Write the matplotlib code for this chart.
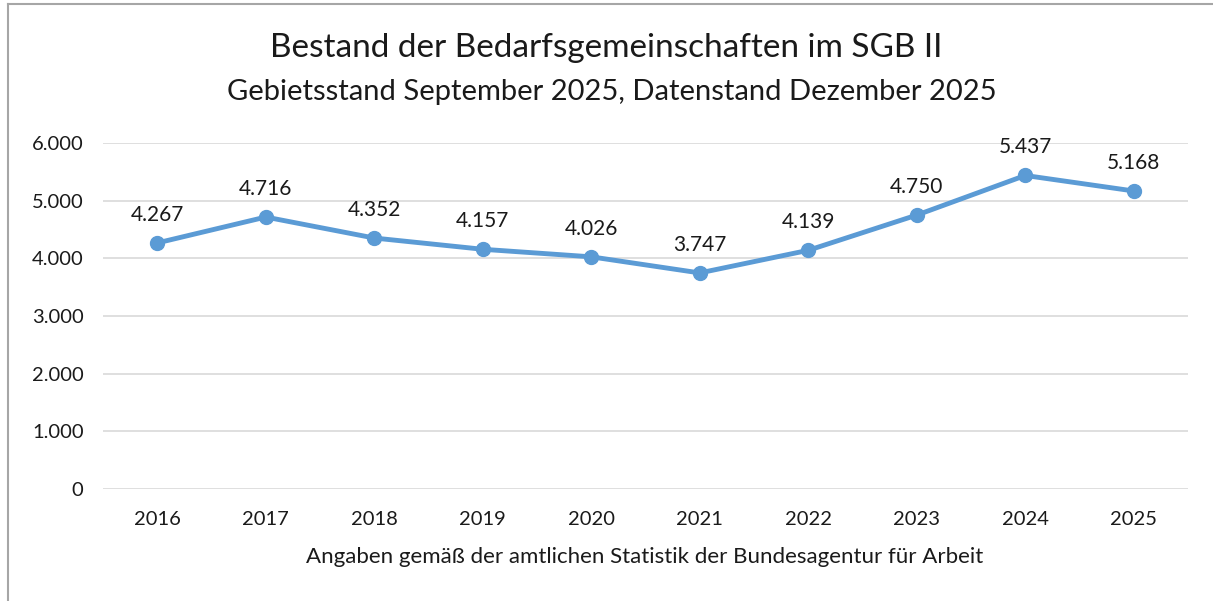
import matplotlib.pyplot as plt
from matplotlib.lines import Line2D
from matplotlib.ticker import FuncFormatter

# Daten
jahre = ['2016', '2017', '2018', '2019', '2020', '2021', '2022', '2023', '2024', '2025']
bestand = [4267, 4716, 4352, 4157, 4026, 3747, 4139, 4750, 5437, 5168]

plt.rcParams['font.family'] = ['Lato', 'DejaVu Sans']

def tausender(v, pos=None):
    return f'{int(v):,}'.replace(',', '.')

fig = plt.figure(figsize=(12.13, 6.01), dpi=100)
ax = fig.add_axes([103 / 1213, 1 - 489 / 601, (1188 - 103) / 1213, (489 - 143) / 601])

x = list(range(len(jahre)))
ax.plot(x, bestand, color='#5B9BD5', linewidth=3.5, marker='o', markersize=10,
        solid_capstyle='round', zorder=3)

for xi, wert in zip(x, bestand):
    ax.annotate(tausender(wert), (xi, wert), xytext=(0, 13), textcoords='offset points',
                ha='center', va='bottom', fontsize=15, color='#1a1a1a')

ax.set_xlim(-0.5, len(jahre) - 0.5)
ax.set_ylim(0, 6000)
ax.set_yticks(range(0, 6001, 1000))
ax.yaxis.set_major_formatter(FuncFormatter(tausender))
ax.set_xticks(x)
ax.set_xticklabels(jahre)
ax.grid(axis='y', color='#D9D9D9', linewidth=1.2)
ax.set_axisbelow(True)
for s in ax.spines.values():
    s.set_visible(False)
ax.tick_params(axis='both', length=0, labelsize=14.5, colors='#1a1a1a')
ax.tick_params(axis='y', pad=14)
ax.tick_params(axis='x', pad=16)

fig.text(0.5, 1 - 48 / 601, 'Bestand der Bedarfsgemeinschaften im SGB II',
         ha='center', va='center', fontsize=24, color='#1a1a1a')
fig.text(612 / 1213, 1 - 92 / 601, 'Gebietsstand September 2025, Datenstand Dezember 2025',
         ha='center', va='center', fontsize=21, color='#1a1a1a')
fig.text(645 / 1213, 1 - 557 / 601, 'Angaben gemäß der amtlichen Statistik der Bundesagentur für Arbeit',
         ha='center', va='center', fontsize=16, color='#1a1a1a')

# Rahmen (links und oben sichtbar)
fig.add_artist(Line2D([7.5 / 1213, 7.5 / 1213], [0, 1 - 4 / 601], color='#A6A6A6', linewidth=1.5))
fig.add_artist(Line2D([7.5 / 1213, 1], [1 - 4 / 601, 1 - 4 / 601], color='#A6A6A6', linewidth=1.5))

fig.savefig('out.png', dpi=100)
